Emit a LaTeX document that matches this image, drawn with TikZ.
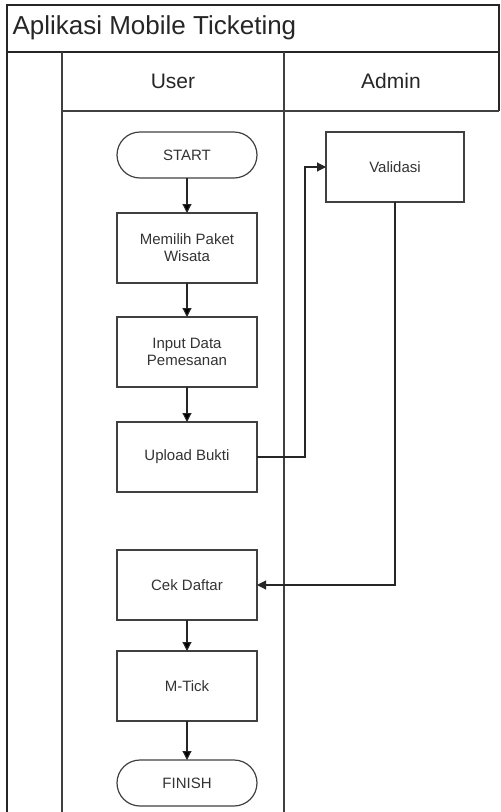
\documentclass[tikz,border=0pt]{standalone}
\usepackage{fontspec}
\setmainfont{Liberation Sans}
\usetikzlibrary{positioning}
\usetikzlibrary{arrows.meta}
\tikzset{proc node/.style={rectangle,draw=black!75,line width=1.2pt,minimum width=140pt,minimum height=70pt,inner sep=0pt,outer sep=0pt,align=center,text=black!80,font=\fontsize{15}{17}\selectfont},
  term node/.style={proc node,rounded corners=23pt,minimum height=46pt},
  flow/.style={draw=black!85,line width=1.1pt,-{Triangle[length=9pt,width=9pt]}},
  lane/.style={draw=black!75,line width=1.5pt},}

\begin{document}
\begin{tikzpicture}[x=1pt,y=-1pt]
    \useasboundingbox (0,0) rectangle (501,812);
    % pool and lanes
    \draw[line width=2pt,black!85] (7,812) -- (7,5) -- (499,5) -- (499,111);
    \draw[line width=2pt,black!85] (7,52) -- (499,52);
    \draw[lane] (62,52) -- (62,812);
    \draw[lane] (284,52) -- (284,812);
    \draw[lane] (62,111) -- (499,111);
    \node[anchor=west,text=black!85,font=\fontsize{26}{30}\selectfont] (title) at (9,28) {Aplikasi Mobile Ticketing};
    \node[text=black!85,font=\fontsize{21}{25}\selectfont] (user) at (173,81) {User};
    \node[text=black!85,font=\fontsize{21}{25}\selectfont] (admin) at (391,81) {Admin};

    \node[term node] (start) at (187,155) {START};
    \node[proc node] (pilih) [below = 35pt of start] {Memilih Paket\\Wisata};
    \node[proc node] (input) [below = 34pt of pilih] {Input Data\\Pemesanan};
    \node[proc node] (upload) [below = 35pt of input] {Upload Bukti};
    \node[proc node] (cek) [below = 58pt of upload] {Cek Daftar};
    \node[proc node] (tick) [below = 31pt of cek] {M-Tick};
    \node[term node] (finish) [below = 39pt of tick] {FINISH};
    \node[proc node,minimum width=138pt] (valid) at (395,167) {Validasi};
    \coordinate (bend) at (305,167);

    \path[flow]
    (start) edge (pilih)
    (pilih) edge (input)
    (input) edge (upload)
    (cek) edge (tick)
    (tick) edge (finish);
    \draw[flow] (upload.east) -| (bend) -- (valid.west);
    \draw[flow] (valid.south) |- (cek.east);
  \end{tikzpicture}
\end{document}
